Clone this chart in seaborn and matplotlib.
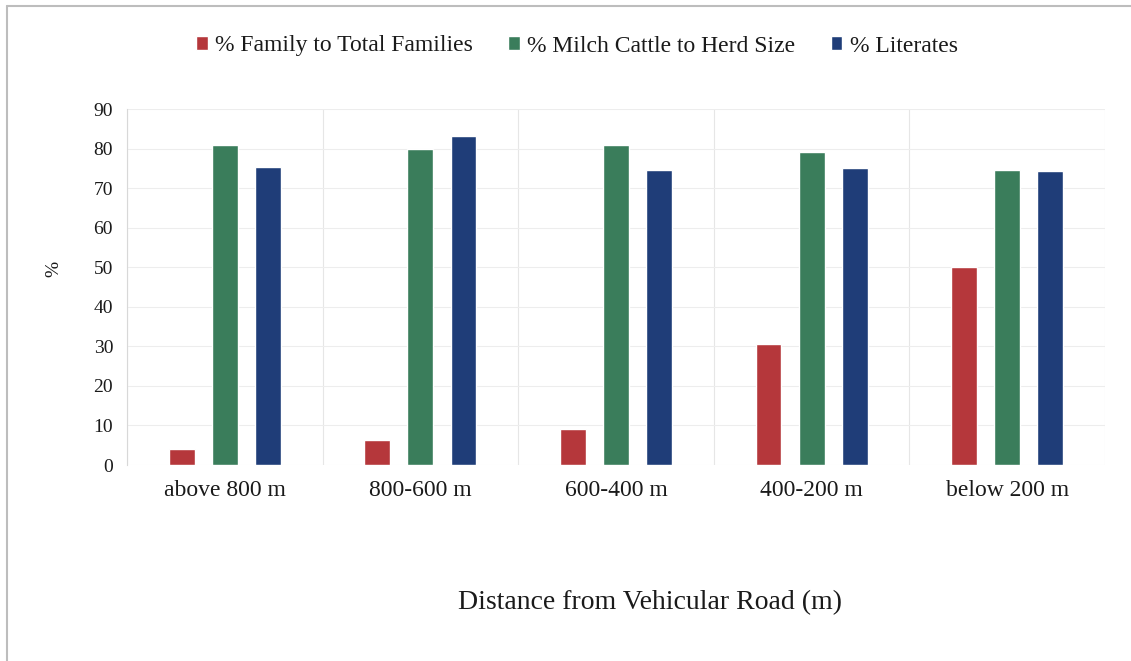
import pandas as pd
import numpy as np
import matplotlib
matplotlib.use('Agg')
import matplotlib.pyplot as plt
from matplotlib.lines import Line2D
import seaborn as sns

# --- data ---
distances = ['above 800 m', '800-600 m', '600-400 m', '400-200 m', 'below 200 m']
pct_family = [4.0, 6.3, 9.0, 30.5, 50.1]
pct_milch = [81.0, 79.9, 80.9, 79.2, 74.7]
pct_literates = [75.3, 83.2, 74.6, 75.2, 74.4]
series_names = ['% Family to Total Families', '% Milch Cattle to Herd Size', '% Literates']

palette = {
    '% Family to Total Families': '#B5373B',
    '% Milch Cattle to Herd Size': '#3A7D5B',
    '% Literates': '#1F3D78',
}

df = pd.DataFrame({
    'Distance': distances * 3,
    'Series': np.repeat(series_names, len(distances)),
    'Value': pct_family + pct_milch + pct_literates,
})

sns.set_theme(style='white')
plt.rcParams['font.family'] = ['Liberation Serif', 'DejaVu Serif']
plt.rcParams['text.color'] = '#1A1A1A'
plt.rcParams['xtick.color'] = '#1A1A1A'
plt.rcParams['ytick.color'] = '#1A1A1A'
plt.rcParams['axes.labelcolor'] = '#1A1A1A'

fig = plt.figure(figsize=(11.31, 6.61), dpi=100)
ax = fig.add_axes([127 / 1131, 1 - 465 / 661, (1105 - 127) / 1131, (465 - 109) / 661])

sns.barplot(data=df, x='Distance', y='Value', hue='Series', palette=palette,
            width=0.66, gap=0.4, saturation=1, ax=ax, legend=True)

ax.set_ylim(0, 90)
ax.set_xlim(-0.5, len(distances) - 0.5)
ax.set_yticks(range(0, 91, 10))
ax.set_xticks(np.arange(-0.5, len(distances), 1), minor=True)
ax.grid(True, axis='y', which='major', color='#EDEDED', linewidth=0.8)
ax.grid(True, axis='x', which='minor', color='#E6E6E6', linewidth=0.8)
ax.grid(False, axis='x', which='major')
ax.set_axisbelow(True)
ax.tick_params(axis='x', which='both', length=0, pad=11, labelsize=17)
ax.tick_params(axis='y', length=0, pad=10, labelsize=14)
for s in ['top', 'right', 'bottom']:
    ax.spines[s].set_visible(False)
ax.spines['left'].set_color('#D8D8D8')
ax.spines['left'].set_linewidth(0.8)

ax.set_xlabel('')
ax.set_ylabel('%', fontsize=14)
ax.yaxis.set_label_coords(-0.066, 0.55)

handles, labels = ax.get_legend_handles_labels()
ax.get_legend().remove()
fig.legend(handles, labels, loc='center', bbox_to_anchor=(0.51, 1 - 46 / 661), ncol=3,
           frameon=False, fontsize=17, handlelength=0.5, handleheight=0.5,
           handletextpad=0.3, columnspacing=1.5)

fig.text(0.575, 1 - 603 / 661, 'Distance from Vehicular Road (m)', ha='center', va='center',
         fontsize=20)

# outer frame (top and left edges visible in the scan)
fig.add_artist(Line2D([7 / 1131, 1.0], [1 - 6 / 661, 1 - 6 / 661], transform=fig.transFigure,
                      color='#BDBDBD', linewidth=1.5))
fig.add_artist(Line2D([7 / 1131, 7 / 1131], [0.0, 1 - 6 / 661], transform=fig.transFigure,
                      color='#BDBDBD', linewidth=1.5))

fig.savefig('out.png', dpi=100)
